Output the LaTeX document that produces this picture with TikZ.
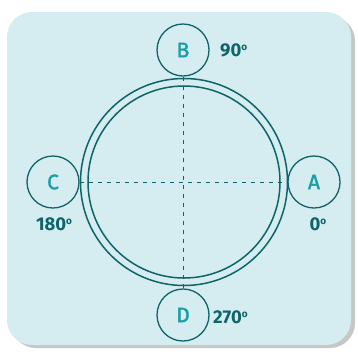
\documentclass[tikz,border=0pt]{standalone}
\usepackage{fontspec}
\setmainfont{Fira Sans}
\newfontfamily\portfont{Fira Sans}[FakeBold=1.8]
\usepackage{tikz}
\usetikzlibrary{arrows.meta,positioning}

\definecolor{panelbg}{HTML}{D5ECF0}
\definecolor{ringcol}{HTML}{0E6468}
\definecolor{lettercol}{HTML}{1A9FA8}

\newcommand{\degmark}{\raisebox{0.6ex}{\fontsize{10}{10}\selectfont o}}

\begin{document}
\begin{tikzpicture}[x=1pt, y=-1pt,
    port/.style={draw=ringcol, circle, line width=1.3pt, minimum size=52pt, inner sep=0pt,
                 font=\fontsize{21}{23}\portfont, text=lettercol},
    ring/.style={draw=ringcol, circle, line width=1.5pt, inner sep=0pt},
    angle/.style={font=\fontsize{18.5}{20}\selectfont\bfseries, text=ringcol, inner sep=0pt},
    axis/.style={draw=ringcol, line width=0.8pt, dash pattern=on 4pt off 5pt},
]
\useasboundingbox (0,0) rectangle (358,354);
% panel with shadow
\fill[black!22, rounded corners=25pt] (11,16) rectangle (355,348);
\fill[panelbg, rounded corners=25pt] (7,12) rectangle (351,345);
% rings
\node[ring, minimum size=207pt] (outer) at (184,182) {};
\node[ring, minimum size=192pt] (inner) at (184,182) {};
% ports
\node[port] (B) at (183,50) {B};
\node[port] (A) at (314,182) {A};
\node[port] (C) at (53,182) {C};
\node[port] (D) at (183,315) {D};
% axes
\draw[axis] (C.east) -- (A.west);
\draw[axis] (B.south) -- (D.north);
% angles
\node[angle, anchor=west] at (220,50) {90\degmark};
\node[angle] at (54,224) {180\degmark};
\node[angle] at (318,224) {0\degmark};
\node[angle, anchor=west] at (213,317) {270\degmark};
\end{tikzpicture}
\end{document}
